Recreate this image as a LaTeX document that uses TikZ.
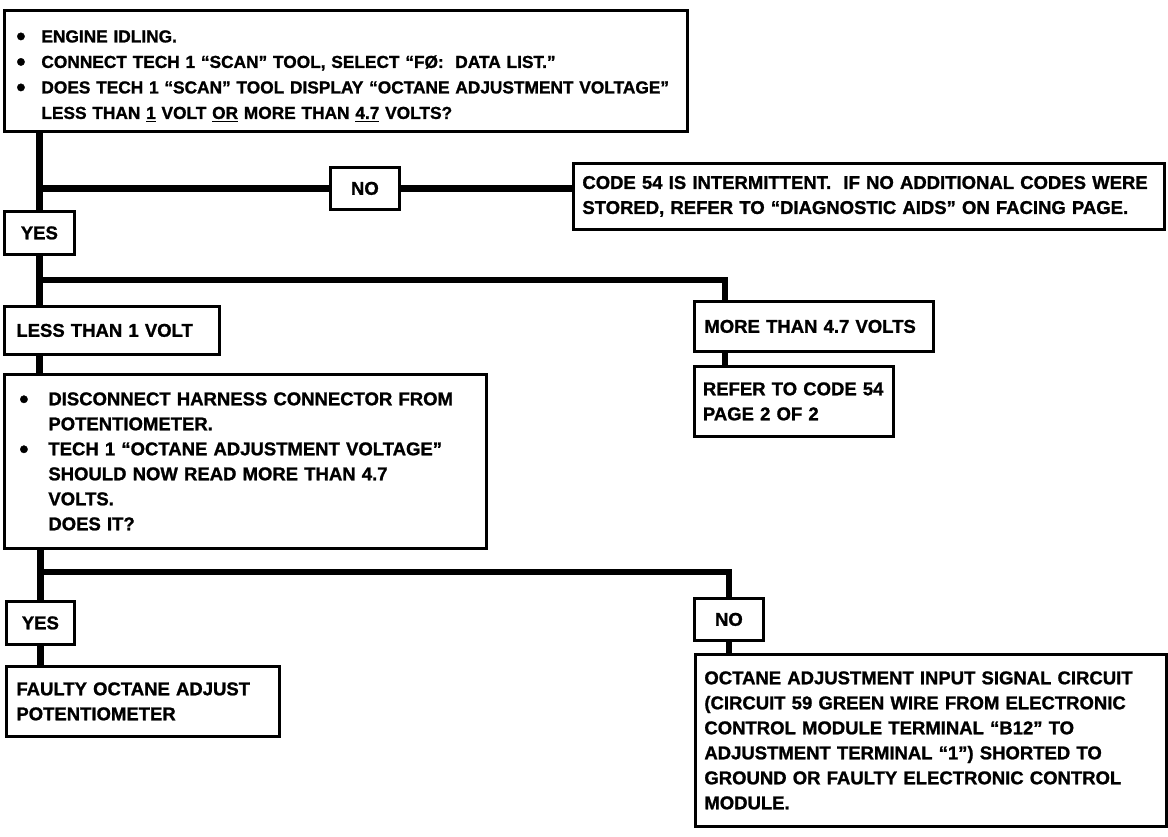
\documentclass[tikz,border=0pt]{standalone}
\usepackage{fontspec}
\setmainfont{Liberation Sans}[BoldFeatures={FakeBold=1.2}]
\newcommand{\myul}[1]{\setbox0\hbox{#1}\rlap{\rule[-3.5pt]{\wd0}{1.8pt}}\box0\relax}
\newcommand{\bul}[1]{\makebox[#1][l]{\hspace*{1pt}\raisebox{-2.6pt}{\fontsize{26}{25}\selectfont•}}}
\begin{document}
\begin{tikzpicture}[x=1pt,y=-1pt,
  box/.style={draw, line width=2.8pt, fill=white, anchor=north west, inner ysep=0pt,
    align=left, font=\bfseries\fontsize{18.5}{25}\selectfont},
  cbox/.style={box, align=center, inner xsep=0pt},
  conn/.style={line width=6.5pt}]
\useasboundingbox (0,0) rectangle (1168,837);

\node[box, inner xsep=11pt, text width=661pt, minimum height=121pt,
  font=\bfseries\fontsize{17.3}{25.5}\selectfont] (top) at (3,9)
 {\rule{0pt}{23pt}\bul{26pt}ENGINE IDLING.\\
  \bul{26pt}CONNECT TECH 1 “SCAN” TOOL, SELECT “FØ:\ \ DATA LIST.”\\
  \bul{26pt}DOES TECH 1 “SCAN” TOOL DISPLAY “OCTANE ADJUSTMENT VOLTAGE”\\
  \hspace*{26pt}LESS THAN \myul{1} VOLT \myul{OR} MORE THAN \myul{4.7} VOLTS?};

\node[cbox, text width=69pt, minimum height=42pt] (no1) at (329,166) {NO};
\node[box, inner xsep=9pt, text width=573pt, minimum height=66pt] (code) at (572,162)
 {CODE 54 IS INTERMITTENT.\ \ IF NO ADDITIONAL CODES WERE\\
  STORED, REFER TO “DIAGNOSTIC AIDS” ON FACING PAGE.};
\node[cbox, text width=70pt, minimum height=43pt] (yes1) at (3,210) {YES};

\node[box, inner xsep=12pt, text width=191pt, minimum height=48pt] (less) at (3,305) {LESS THAN 1 VOLT};
\node[box, inner xsep=10pt, text width=219pt, minimum height=50pt] (more) at (693,300) {MORE THAN 4.7 VOLTS};
\node[box, inner xsep=8.5pt, text width=182pt, minimum height=70pt] (refer) at (693,365)
 {REFER TO CODE 54\\PAGE 2 OF 2};

\node[box, inner xsep=14pt, text width=454pt, minimum height=174pt] (big) at (3,373)
 {\bul{30pt}DISCONNECT HARNESS CONNECTOR FROM\\
  \hspace*{30pt}POTENTIOMETER.\\
  \bul{30pt}TECH 1 “OCTANE ADJUSTMENT VOLTAGE”\\
  \hspace*{30pt}SHOULD NOW READ MORE THAN 4.7\\
  \hspace*{30pt}VOLTS.\\
  \hspace*{30pt}DOES IT?};

\node[cbox, text width=68pt, minimum height=43pt] (yes2) at (5,600) {YES};
\node[box, inner xsep=10pt, text width=253pt, minimum height=70pt] (faulty) at (5,665)
 {FAULTY OCTANE ADJUST\\POTENTIOMETER};
\node[cbox, text width=69pt, minimum height=42pt] (no2) at (693,597) {NO};
\node[box, inner xsep=9pt, text width=453pt, minimum height=172pt] (bot) at (694,653)
 {OCTANE ADJUSTMENT INPUT SIGNAL CIRCUIT\\
  (CIRCUIT 59 GREEN WIRE FROM ELECTRONIC\\
  CONTROL MODULE TERMINAL “B12” TO\\
  ADJUSTMENT TERMINAL “1”) SHORTED TO\\
  GROUND OR FAULTY ELECTRONIC CONTROL\\
  MODULE.};

\coordinate (j2) at (38,280);
\coordinate (m1) at (725,300);
\coordinate (j3) at (39,572);

\draw[conn] (top.south -| yes1.north) -- (yes1.north);
\draw[conn] (yes1.north |- no1.west) -- (no1.west);
\draw[conn] (no1.east) -- (no1.east -| code.west);
\draw[conn] (yes1.south) -- (yes1.south |- less.north);
\draw[conn] (j2) -| (m1);
\draw[conn] (m1 |- more.south) -- (m1 |- refer.north);
\draw[conn] (yes1.south |- less.south) -- (yes1.south |- big.north);
\draw[conn] (yes2.north |- big.south) -- (yes2.north);
\draw[conn] (j3) -| (no2.north);
\draw[conn] (yes2.south) -- (yes2.south |- faulty.north);
\draw[conn] (no2.south) -- (no2.south |- bot.north);
\end{tikzpicture}
\end{document}
